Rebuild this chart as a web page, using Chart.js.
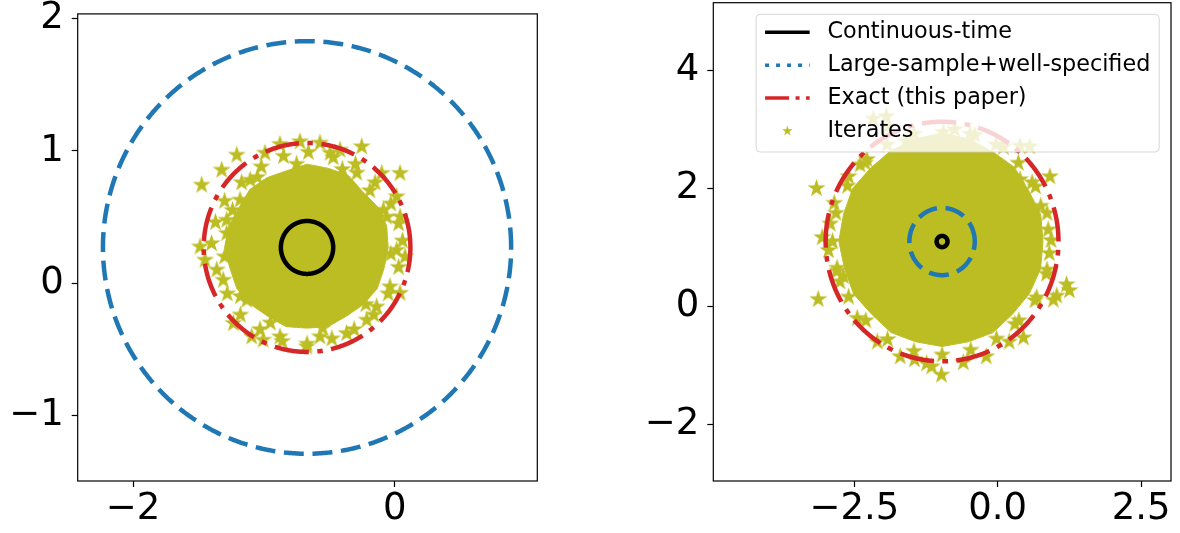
<!DOCTYPE html>
<html><head><meta charset="utf-8">
<script src="https://cdn.jsdelivr.net/npm/chart.js@4/dist/chart.umd.min.js"></script>
<style>
html,body{margin:0;padding:0;background:#fff;width:1180px;height:533px;overflow:hidden}
canvas{position:absolute;left:0;top:0}
</style></head><body>
<canvas id="left" width="1180" height="533"></canvas>
<canvas id="right" width="1180" height="533"></canvas>
<script>
// ---------------- data ----------------
const leftXTicks = [-2, 0];
const leftXLabels = ['\u22122', '0'];
const leftYTicks = [-1, 0, 1, 2];
const leftYLabels = ['\u22121', '0', '1', '2'];
const rightXTicks = [-2.5, 0, 2.5];
const rightXLabels = ['\u22122.5', '0.0', '2.5'];
const rightYTicks = [-2, 0, 2, 4];
const rightYLabels = ['\u22122', '0', '2', '4'];

const leftXRange = [-2.423, 1.090];
const leftYRange = [-1.496, 2.036];
const rightXRange = [-4.959, 3.022];
const rightYRange = [-2.958, 5.147];

const legendLabels = ['Continuous-time', 'Large-sample+well-specified', 'Exact (this paper)', 'Iterates'];

// circle centres and radii: [continuous-time, large-sample, exact]
const leftCenter = [-0.67, 0.27];
const leftRadii = [0.20, 1.56, 0.79];
const rightCenter = [-0.97, 1.10];
const rightRadii = [0.095, 0.57, 2.03];

// dense core of the iterate cloud (outline)
const leftCore = [
  [-0.05,0.27],[-0.061,0.433],[-0.133,0.58],[-0.246,0.694],[-0.355,0.816],[-0.51,0.869],
  [-0.67,0.90],[-0.825,0.85],[-0.975,0.798],[-1.108,0.708],[-1.19,0.57],[-1.269,0.43],
  [-1.30,0.27],[-1.259,0.112],[-1.207,-0.04],[-1.101,-0.161],[-0.97,-0.25],[-0.83,-0.329],
  [-0.67,-0.34],[-0.51,-0.329],[-0.37,-0.25],[-0.239,-0.161],[-0.133,-0.04],[-0.081,0.112],
  [-0.05,0.27]
];
// individual iterates visible around the edge of the cloud
const leftIterates = [
  [-1.475,0.742],[-1.207,0.969],[-1.322,0.856],[-0.991,0.984],[-0.877,1.050],[-0.724,1.070],
  [-0.571,1.060],[-0.494,0.984],[-0.290,0.833],[-0.252,1.032],[-0.099,0.831],[0.041,0.831],
  [0.015,0.654],[-0.087,0.553],[0.041,0.502],[0.079,0.200],[0.015,0.250],[0.041,-0.075],
  [-0.036,-0.027],[-0.138,-0.179],[-0.214,-0.279],[-0.367,-0.380],[-0.571,-0.405],[-0.672,-0.481],
  [-0.877,-0.405],[-1.006,-0.430],[-1.093,-0.405],[-1.233,-0.304],[-1.131,-0.128],[-1.310,0.023],
  [-1.450,0.175],[-1.488,0.275],[-1.284,0.477],[-1.284,0.377],[-1.182,0.629],[-1.105,0.780],
  [-0.418,1.007],
  [0.06,0.32],[0.03,0.45],[-0.03,0.60],[-0.15,0.76],[-0.30,0.90],[-0.47,0.95],[-0.66,0.99],
  [-0.85,0.96],[-1.02,0.88],[-1.17,0.76],[-1.30,0.62],[-1.37,0.46],[-1.40,0.30],[-1.36,0.10],
  [-1.28,-0.08],[-1.18,-0.24],[-1.03,-0.35],[-0.86,-0.44],[-0.67,-0.46],[-0.48,-0.42],
  [-0.31,-0.35],[-0.16,-0.24],[-0.05,-0.08],[0.03,0.12],
  [-0.03,0.22],[-0.06,0.50],[-0.19,0.70],[-0.40,0.86],[-0.75,0.90],[-1.05,0.80],[-1.24,0.55],
  [-1.30,0.20],[-1.18,-0.10],[-0.95,-0.30],[-0.55,-0.34],[-0.22,-0.16]
];

const rightCore = [
  [0.79,1.10],[0.75,1.56],[0.537,1.97],[0.289,2.359],[-0.09,2.624],[-0.504,2.839],[-0.97,2.94],
  [-1.436,2.839],[-1.86,2.642],[-2.214,2.345],[-2.529,2.00],[-2.689,1.561],[-2.77,1.10],
  [-2.67,0.644],[-2.512,0.21],[-2.20,-0.13],[-1.86,-0.442],[-1.426,-0.60],[-0.97,-0.68],
  [-0.514,-0.60],[-0.08,-0.442],[0.26,-0.13],[0.554,0.22],[0.749,0.639],[0.79,1.10]
];
const rightIterates = [
  [-3.16,2.00],[-3.13,0.12],[-3.06,1.17],[-2.75,0.42],[-2.69,0.51],[-2.28,2.49],[-2.17,3.18],
  [-1.94,3.22],[-1.91,3.05],[-0.95,2.95],[-0.75,3.00],[0.39,2.72],[0.56,2.71],[0.39,2.15],
  [0.91,2.20],[1.20,0.37],[1.25,0.27],[1.03,0.18],[0.97,0.11],[0.45,-0.53],[0.20,-0.60],
  [-0.20,-0.85],[-0.60,-0.95],[-0.98,-1.16],[-1.15,-1.02],[-1.24,-0.97],[-1.45,-0.90],
  [-1.70,-0.85],[-2.10,-0.60],[-2.45,-0.20],[-2.80,0.65],[-2.95,0.95],[-2.92,1.40],[-2.85,1.75],
  [-2.60,2.20],[-2.40,2.40],[0.60,2.10],[0.75,1.70],[0.88,1.30],[0.90,0.90],[0.85,0.55],
  [0.65,0.10],[0.30,-0.30],[-1.60,2.80],[-0.40,2.90],[0.10,2.70],
  [0.93,1.12],[0.86,1.58],[0.66,2.03],[0.36,2.43],[-0.03,2.74],[-0.48,2.92],[-1.46,2.92],
  [-1.93,2.74],[-2.31,2.43],[-2.62,2.04],[-2.82,1.58],[-2.88,1.10],[-2.80,0.60],[-2.60,0.16],
  [-2.30,-0.24],[-1.92,-0.56],[-1.46,-0.76],[-0.97,-0.82],[-0.47,-0.74],[-0.02,-0.55],
  [0.37,-0.24],[0.68,0.15],[0.86,0.62]
];

// ---------------- styling / helpers ----------------
const OLIVE = '#bcbd22', BLUE = '#1f77b4', RED = '#d62728';
const FONT = "'DejaVu Sans', sans-serif";
const TICK_FS = 37, LEG_FS = 22.3;

function starPath(g, cx, cy, r) {
  const ri = r * 0.381966;
  g.beginPath();
  for (let i = 0; i < 10; i++) {
    const a = -Math.PI / 2 + i * Math.PI / 5;
    const rr = i % 2 ? ri : r;
    g.lineTo(cx + rr * Math.cos(a), cy + rr * Math.sin(a));
  }
  g.closePath();
}
function makeStar(r) {
  const s = Math.ceil(r * 2 + 2);
  const c = document.createElement('canvas');
  c.width = s; c.height = s;
  const g = c.getContext('2d');
  g.fillStyle = OLIVE;
  starPath(g, s / 2, s / 2, r);
  g.fill();
  return c;
}
function ringPoints(c, r) {
  const pts = [];
  for (let i = 0; i <= 360; i++) {
    const t = i / 360 * 2 * Math.PI;
    pts.push({ x: c[0] + r * Math.cos(t), y: c[1] + r * Math.sin(t) });
  }
  return pts;
}
const toPts = arr => arr.map(p => ({ x: p[0], y: p[1] }));
function ring(c, r, color, dash, order) {
  return { data: ringPoints(c, r), showLine: true, borderColor: color, borderWidth: 4.5,
    borderDash: dash, borderCapStyle: 'butt', borderJoinStyle: 'round', pointRadius: 0,
    fill: false, tension: 0.001, order };
}

const framePlugin = {
  id: 'frame',
  afterDatasetsDraw(chart) {
    const { ctx, chartArea: a } = chart;
    ctx.save();
    ctx.strokeStyle = '#000'; ctx.lineWidth = 1.2;
    ctx.strokeRect(a.left, a.top, a.right - a.left, a.bottom - a.top);
    ctx.restore();
  }
};

const legendPlugin = {
  id: 'mplLegend',
  afterDraw(chart) {
    const ctx = chart.ctx, a = chart.chartArea, fs = LEG_FS;
    ctx.save();
    ctx.font = fs + 'px ' + FONT;
    const textW = Math.max(...legendLabels.map(t => ctx.measureText(t).width));
    const pad = 0.4 * fs, hl = 2 * fs, htp = 0.8 * fs, rowH = 32.9;
    const w = pad + hl + htp + textW + pad, h = 137.7;
    const x0 = a.right - 11.8 - w, y0 = a.top + 11.6;
    ctx.beginPath();
    ctx.roundRect(x0, y0, w, h, 4);
    ctx.fillStyle = 'rgba(255,255,255,0.8)';
    ctx.fill();
    ctx.strokeStyle = 'rgba(204,204,204,0.8)';
    ctx.lineWidth = 1;
    ctx.stroke();
    const hx0 = x0 + pad, hx1 = hx0 + hl, tx = hx1 + htp;
    const styles = [
      { c: '#000', d: [] },
      { c: BLUE, d: [4, 7] },
      { c: RED, d: [24, 6.5, 4, 6.5] },
      null
    ];
    legendLabels.forEach((lab, i) => {
      const cy = y0 + 18 + i * rowH;
      const st = styles[i];
      if (st) {
        ctx.beginPath();
        ctx.setLineDash(st.d);
        ctx.lineCap = 'butt';
        ctx.strokeStyle = st.c; ctx.lineWidth = 3.5;
        ctx.moveTo(hx0, cy); ctx.lineTo(hx1, cy);
        ctx.stroke();
        ctx.setLineDash([]);
      } else {
        ctx.fillStyle = OLIVE;
        starPath(ctx, (hx0 + hx1) / 2, cy, 5.5);
        ctx.fill();
      }
      ctx.fillStyle = '#000';
      ctx.textBaseline = 'middle';
      ctx.textAlign = 'left';
      ctx.fillText(lab, tx, cy);
    });
    ctx.restore();
  }
};

function axisOpts(range, ticks, labels, horizontal, size) {
  return {
    type: 'linear', min: range[0], max: range[1],
    afterBuildTicks: ax => { ax.ticks = ticks.map(v => ({ value: v })); },
    afterFit: ax => {
      if (horizontal) ax.height = size; else ax.width = size;
      ax.paddingTop = 0; ax.paddingBottom = 0; ax.paddingLeft = 0; ax.paddingRight = 0;
    },
    ticks: {
      callback: (v, i) => labels[i],
      font: { family: FONT, size: TICK_FS }, color: '#000',
      padding: horizontal ? 0 : 8, maxRotation: 0, minRotation: 0, autoSkip: false
    },
    grid: { display: true, drawOnChartArea: false, drawTicks: true, tickLength: 6,
      tickWidth: 1.2, tickColor: '#000', color: '#000' },
    border: { display: false }
  };
}

function buildChart(id, o) {
  const starImg = makeStar(9.5);
  const plugins = [framePlugin];
  if (o.legend) plugins.push(legendPlugin);
  return new Chart(document.getElementById(id), {
    type: 'scatter',
    data: { datasets: [
      ring(o.center, o.radii[0], '#000000', [], 0),
      ring(o.center, o.radii[1], BLUE, [20, 8.6], 1),
      ring(o.center, o.radii[2], RED, [34.5, 8.6, 5.4, 8.6], 2),
      { data: toPts(o.iterates), showLine: false, pointStyle: starImg, pointRadius: 9.5,
        pointHoverRadius: 9.5, order: 3 },
      { data: toPts(o.core), showLine: true, fill: 'shape', backgroundColor: OLIVE,
        borderColor: OLIVE, borderWidth: 1, pointRadius: 0, tension: 0.001, order: 4 }
    ] },
    options: {
      responsive: false, animation: false, devicePixelRatio: 1, events: [],
      layout: { autoPadding: false, padding: { left: 0, top: o.area.top, right: 1180 - o.area.right, bottom: 0 } },
      plugins: { legend: { display: false }, tooltip: { enabled: false } },
      scales: {
        x: axisOpts(o.xr, o.xt, o.xl, true, 533 - o.area.bottom),
        y: axisOpts(o.yr, o.yt, o.yl, false, o.area.left)
      }
    },
    plugins
  });
}

buildChart('left', {
  center: leftCenter, radii: leftRadii, iterates: leftIterates, core: leftCore,
  xr: leftXRange, yr: leftYRange, xt: leftXTicks, xl: leftXLabels, yt: leftYTicks, yl: leftYLabels,
  area: { left: 77.7, top: 13.9, right: 537.3, bottom: 481 }, legend: false
});
buildChart('right', {
  center: rightCenter, radii: rightRadii, iterates: rightIterates, core: rightCore,
  xr: rightXRange, yr: rightYRange, xt: rightXTicks, xl: rightXLabels, yt: rightYTicks, yl: rightYLabels,
  area: { left: 713.3, top: 2.7, right: 1171, bottom: 481 }, legend: true
});
</script>
</body></html>
